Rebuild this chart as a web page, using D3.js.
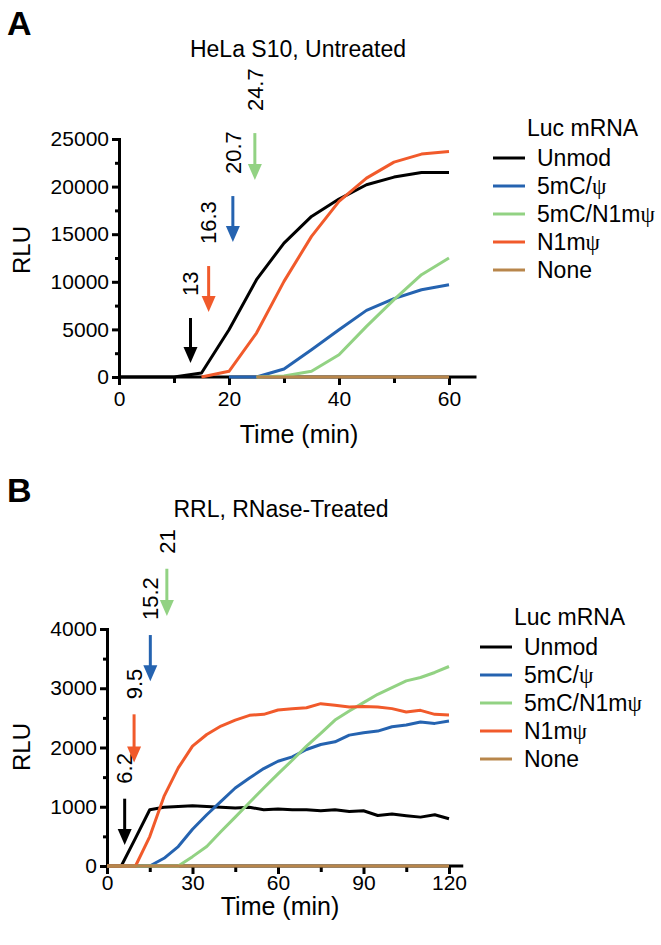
<!DOCTYPE html>
<meta charset="utf-8">
<style>
    body { margin: 0; background: #fff; }
    svg text { font-family: "Liberation Sans", Arial, sans-serif; fill: #000; }
    .axis path, .axis line { stroke: #000; stroke-width: 3px; }
    .series { fill: none; stroke-width: 3px; stroke-linejoin: round; }
</style>
<svg width="661" height="945"></svg>
<script src="https://cdnjs.cloudflare.com/ajax/libs/d3/7.8.5/d3.min.js"></script>
<script>

    // series names and colours (shared)
    var names = ["Unmod", "5mC/ψ", "5mC/N1mψ", "N1mψ", "None"];
    var colors = ["#000000", "#2563b0", "#92d283", "#f15a2b", "#b8864b"];

    // panel A : HeLa S10, untreated
    var timeA = [0, 5, 10, 15, 20, 25, 30, 35, 40, 45, 50, 55, 60];
    var unmodA = [0, 0, 0, 420, 4970, 10220, 14070, 16870, 18690, 20190, 21000, 21490, 21490];
    var psiA = [null, null, null, null, 0, 0, 840, 2870, 4970, 7000, 8225, 9170, 9695];
    var n1psiA = [null, null, null, null, null, 0, 100, 595, 2345, 5320, 8120, 10745, 12495];
    var n1mA = [null, null, null, 0, 595, 4620, 10045, 14770, 18445, 20895, 22575, 23415, 23695];
    var noneA = [null, null, null, null, null, 0, 0, 0, 0, 0, 0, 0, 0];
    var lagA = ["13", "16.3", "20.7", "24.7"];
    var lagColA = [0, 3, 1, 2];
    var arrowTipA = [1470, 6825, 14175, 20685];
    var arrowTopA = [6195, 11655, 19005, 25620];
    var xTicksA = [0, 10, 20, 30, 40, 50, 60];
    var xLabelsA = [0, 20, 40, 60];
    var yTicksA = [0, 2500, 5000, 7500, 10000, 12500, 15000, 17500, 20000, 22500, 25000];
    var yLabelsA = [0, 5000, 10000, 15000, 20000, 25000];

    // panel B : RRL, RNase-treated
    var timeB = [0, 5, 10, 15, 20, 25, 30, 35, 40, 45, 50, 55, 60, 65, 70, 75, 80, 85, 90, 95, 100, 105, 110, 115, 120];
    var unmodB = [0, 0, 470, 949, 990, 1005, 1017, 1005, 990, 977, 990, 950, 960, 950, 950, 932, 950, 920, 932, 853, 876, 848, 825, 865, 797];
    var psiB = [0, 0, 0, 0, 130, 328, 620, 865, 1090, 1316, 1486, 1644, 1768, 1842, 1966, 2051, 2096, 2209, 2249, 2277, 2350, 2379, 2430, 2407, 2446];
    var n1psiB = [0, 0, 0, 0, 0, 0, 158, 328, 582, 825, 1073, 1316, 1554, 1785, 2023, 2237, 2463, 2616, 2757, 2898, 3011, 3124, 3181, 3266, 3367];
    var n1mB = [0, 0, 0, 497, 1175, 1655, 2023, 2220, 2362, 2463, 2543, 2560, 2633, 2656, 2672, 2740, 2712, 2684, 2690, 2684, 2656, 2600, 2627, 2560, 2548];
    var noneB = [0, 0, 0, 0, 0, 0, 0, 0, 0, 0, 0, 0, 0, 0, 0, 0, 0, 0, 0, 0, 0, 0, 0, 0, 0];
    var lagB = ["6.2", "9.5", "15.2", "21"];
    var lagColB = [0, 3, 1, 2];
    var arrowTipB = [356, 1746, 3119, 4220];
    var arrowTopB = [1136, 2560, 3898, 5017];
    var xTicksB = [0, 15, 30, 45, 60, 75, 90, 105, 120];
    var xLabelsB = [0, 30, 60, 90, 120];
    var yTicksB = [0, 500, 1000, 1500, 2000, 2500, 3000, 3500, 4000];
    var yLabelsB = [0, 1000, 2000, 3000, 4000];

    var svg = d3.select("svg");

    function psiText(sel, str) {
        var parts = str.split("ψ");
        parts.forEach(function(p, i) {
            if (p) sel.append("tspan").text(p);
            if (i < parts.length - 1)
                sel.append("tspan").style("font-family", "'Liberation Serif', 'DejaVu Serif', serif").text("ψ");
        });
    }

    function drawPanel(p) {
        var x = d3.scaleLinear().domain(p.xDomain).range(p.xRange);
        var y = d3.scaleLinear().domain(p.yDomain).range(p.yRange);

        svg.append("text").attr("x", 7).attr("y", p.letterY)
                .style("font-size", "34px").style("font-weight", "bold").text(p.letter);
        svg.append("text").attr("x", p.titleX).attr("y", p.titleY)
                .attr("text-anchor", "middle").style("font-size", "23px").text(p.title);

        var xAxis = svg.append("g").attr("class", "axis")
                .attr("transform", "translate(0," + y(0) + ")")
                .call(d3.axisBottom(x).tickValues(p.xTicks).tickSizeOuter(0).tickSize(8)
                        .tickFormat(function(d) { return p.xLabels.indexOf(d) >= 0 ? d : ""; }));
        xAxis.selectAll(".tick line").attr("y2", function(d) { return p.xLabels.indexOf(d) >= 0 ? 8 : 6; });
        xAxis.selectAll(".tick text").attr("y", p.xLabelDy).attr("dy", 0)
                .style("font-size", "21px").style("font-family", "'Liberation Sans', Arial, sans-serif");

        var yAxis = svg.append("g").attr("class", "axis")
                .attr("transform", "translate(" + x(0) + ",0)")
                .call(d3.axisLeft(y).tickValues(p.yTicks).tickSizeOuter(0).tickSize(7)
                        .tickFormat(function(d) { return p.yLabels.indexOf(d) >= 0 ? d : ""; }));
        yAxis.selectAll(".tick line").attr("x2", function(d) { return p.yLabels.indexOf(d) >= 0 ? -7 : -4; });
        yAxis.selectAll(".tick text").attr("x", -10)
                .style("font-size", "21px").style("font-family", "'Liberation Sans', Arial, sans-serif");
        // extend x axis past the last tick
        xAxis.select(".domain").attr("d", "M" + x(0) + ",0H" + x(p.xDomain[1]));

        svg.append("text").attr("x", p.xTitleX).attr("y", p.xTitleY)
                .attr("text-anchor", "middle").style("font-size", "25px").text("Time (min)");
        svg.append("text").attr("transform", "translate(22," + p.yTitleY + ") rotate(-90)")
                .attr("text-anchor", "middle").attr("dy", "0.35em")
                .style("font-size", "24px").text("RLU");

        var line = d3.line()
                .defined(function(d) { return d.v != null; })
                .x(function(d) { return x(d.t); })
                .y(function(d) { return y(d.v); });

        // draw order: Unmod, 5mC/psi, 5mC/N1mpsi, N1mpsi, None
        [0, 1, 2, 3, 4].forEach(function(i) {
            var pts = p.time.map(function(t, j) { return {t: t, v: p.series[i][j]}; });
            svg.append("path").attr("class", "series")
                    .attr("stroke", colors[i]).attr("d", line(pts));
        });

        // lag-time arrows
        p.lags.forEach(function(lab, i) {
            var ax = x(+lab), yt = y(p.arrowTop[i]), yb = y(p.arrowTip[i]);
            var c = colors[p.lagCol[i]];
            svg.append("line").attr("x1", ax).attr("x2", ax)
                    .attr("y1", yt).attr("y2", yb - 12)
                    .attr("stroke", c).attr("stroke-width", 3);
            svg.append("path").attr("fill", c)
                    .attr("d", "M" + (ax - 7) + "," + (yb - 16) + "L" + (ax + 7) + "," + (yb - 16) + "L" + ax + "," + yb + "Z");
            svg.append("text").attr("transform", "translate(" + ax + "," + (yt - p.labelGap) + ") rotate(-90)")
                    .attr("dy", "0.35em").style("font-size", "22px").text(lab);
        });

        // legend
        var lg = svg.append("g");
        lg.append("text").attr("x", p.legX + 34).attr("y", p.legY - 22)
                .style("font-size", "23px").text("Luc mRNA");
        names.forEach(function(n, i) {
            var yy = p.legY + i * 28;
            lg.append("line").attr("x1", p.legX).attr("x2", p.legX + 32)
                    .attr("y1", yy).attr("y2", yy)
                    .attr("stroke", colors[i]).attr("stroke-width", 3);
            var t = lg.append("text").attr("x", p.legX + 44).attr("y", yy).attr("dy", "0.35em")
                    .style("font-size", "23px");
            psiText(t, n);
        });
    }

    drawPanel({
        letter: "A", letterY: 35, title: "HeLa S10, Untreated", titleX: 298, titleY: 57,
        xDomain: [0, 65], xRange: [119, 476.5], yDomain: [0, 25000], yRange: [377, 139],
        xTicks: xTicksA, xLabels: xLabelsA, yTicks: yTicksA, yLabels: yLabelsA, xLabelDy: 29,
        xTitleX: 299, xTitleY: 443, yTitleY: 250,
        time: timeA, series: [unmodA, psiA, n1psiA, n1mA, noneA],
        lags: lagA, lagCol: lagColA, arrowTip: arrowTipA, arrowTop: arrowTopA, labelGap: 22,
        legX: 493, legY: 158
    });

    drawPanel({
        letter: "B", letterY: 502, title: "RRL, RNase-Treated", titleX: 281, titleY: 517,
        xDomain: [0, 125], xRange: [107, 463.25], yDomain: [0, 4000], yRange: [866, 629],
        xTicks: xTicksB, xLabels: xLabelsB, yTicks: yTicksB, yLabels: yLabelsB, xLabelDy: 24,
        xTitleX: 280, xTitleY: 915, yTitleY: 747,
        time: timeB, series: [unmodB, psiB, n1psiB, n1mB, noneB],
        lags: lagB, lagCol: lagColB, arrowTip: arrowTipB, arrowTop: arrowTopB, labelGap: 15,
        legX: 480, legY: 647
    });

</script>
